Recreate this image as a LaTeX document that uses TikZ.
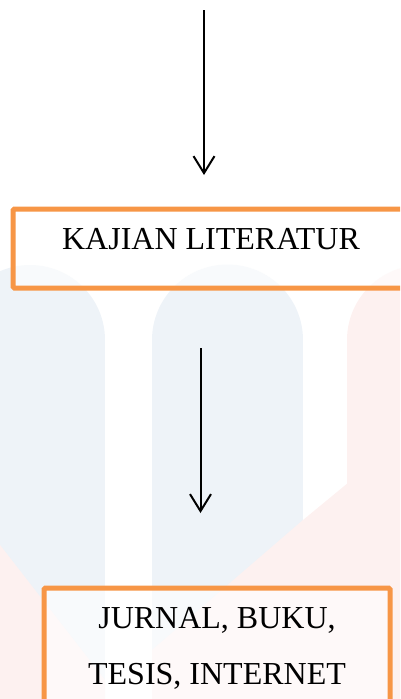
\documentclass[tikz,border=0pt]{standalone}
\usepackage{fontspec}
\setmainfont{Liberation Serif}
\usepackage{tikz}
\usetikzlibrary{arrows.meta, positioning}
\usepackage{xcolor}
\definecolor{oren}{RGB}{247,150,70}
\definecolor{pudarbiru}{RGB}{238,243,248}
\definecolor{pudarmerah}{RGB}{253,241,240}

\begin{document}
\begin{tikzpicture}[x=1pt, y=-1pt,
		kotak/.style={draw=oren, fill=white, fill opacity=0.6, text opacity=1, line width=5pt, rounded corners=1.5pt, inner xsep=0pt, inner ysep=18pt, text height=22pt, align=center, font=\fontsize{32}{56}\selectfont},
		panah/.style={-{Straight Barb[length=17pt, width=21pt]}, line width=2pt}]
		
		\useasboundingbox (0,0) rectangle (400,699);
		\clip (0,0) rectangle (400,699);
		
		% latar pudar
		\fill[pudarbiru] (30,340) circle[radius=75];
		\fill[pudarbiru] (-45,340) rectangle (105,699);
		\fill[pudarbiru] (227.5,340) circle[radius=75.5];
		\fill[pudarbiru] (152,340) rectangle (303,699);
		\fill[pudarmerah] (422,340) circle[radius=75];
		\fill[pudarmerah] (347,340) rectangle (497,699);
		\fill[pudarmerah] (0,545) -- (105,680) -- (105,699) -- (0,699) -- cycle;
		\fill[pudarmerah] (400,440) -- (303,520) -- (187,620) -- (152,650) -- (152,699) -- (400,699) -- cycle;
		
		%kajian
		\node[kotak, minimum width=396pt, text depth=21pt, anchor=base] (kajian) at (211,249) {KAJIAN LITERATUR};
		%sumber
		\node[kotak, minimum width=346pt, text height=78pt, text depth=60pt, below=435pt of kajian.base, anchor=base, xshift=6pt] (sumber) {JURNAL, BUKU,\\TESIS, INTERNET};
		
		% panah atas
		\coordinate (p1) at (204,10);
		\coordinate (q1) at (204,175);
		\draw[panah] (p1) -- (q1);
		
		% panah kajian - sumber
		\coordinate (p2) at (200.5,348);
		\coordinate (q2) at (200.5,513);
		\draw[panah] (p2) -- (q2);
		
\end{tikzpicture}
\end{document}
